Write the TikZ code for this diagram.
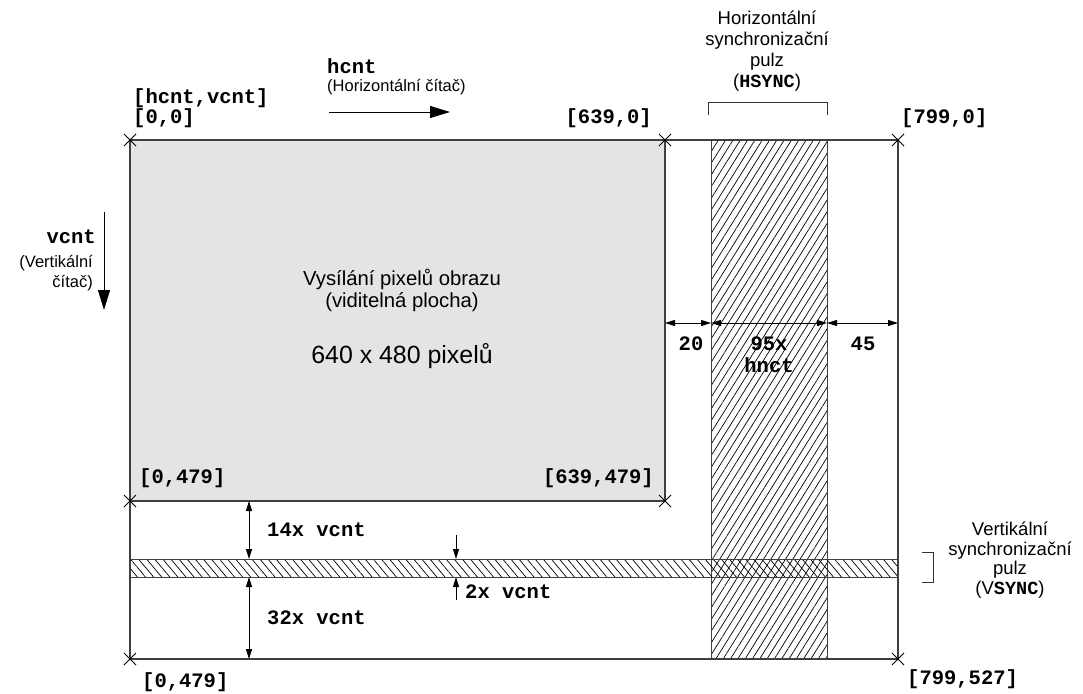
\documentclass[tikz,border=0pt]{standalone}
\usepackage{fontspec}
\setmainfont{Liberation Sans}
\setmonofont{Liberation Mono}
\usetikzlibrary{arrows.meta,patterns.meta}

\definecolor{lineg}{HTML}{404040}
\definecolor{areag}{HTML}{E4E4E4}

\tikzset{
  frameline/.style={draw=lineg, line width=1.2pt},
  crossmark/.style={draw=black, line width=0.8pt},
  mono/.style={font=\fontsize{20.5}{22}\selectfont\ttfamily\bfseries, inner sep=0pt},
  captext/.style={font=\fontsize{16.5}{20.5}\selectfont, align=center, inner sep=0pt},
  synctext/.style={font=\fontsize{18.5}{#1}\selectfont, align=center, inner sep=0pt, anchor=north},
  areatext/.style={font=\fontsize{20.3}{22}\selectfont, inner sep=0pt},
  bigarrow/.style={line width=1pt, -{Triangle[length=20pt,width=12pt]}},
  dimarrow/.style={line width=1pt, {Triangle[length=10pt,width=6pt]}-{Triangle[length=10pt,width=6pt]}},
  onearrow/.style={line width=1pt, -{Triangle[length=10pt,width=6pt]}},
  hatchH/.style={pattern={Lines[angle=58,distance=6.2pt,line width=0.7pt]}, pattern color=black},
  hatchV/.style={pattern={Lines[angle=-50,distance=6.2pt,line width=0.7pt]}, pattern color=black},
}

\begin{document}
\begin{tikzpicture}[x=1pt,y=-1pt]
\useasboundingbox (0,0) rectangle (1083,693);
\fill[white] (0,0) rectangle (1083,693);

% frame corners
\coordinate (tl) at (130,140);
\coordinate (tm) at (665,140);
\coordinate (tr) at (898,140);
\coordinate (ml) at (130,501);
\coordinate (mm) at (665,501);
\coordinate (bl) at (130,659);
\coordinate (br) at (898,659);

% visible area
\fill[areag] (tl) rectangle (mm);

% sync pulses
\draw[hatchH, draw=lineg, line width=1pt] (711,140) rectangle (827,659);
\draw[hatchV, draw=lineg, line width=1pt] (130,559) rectangle (898,577);

% outline
\draw[frameline] (tl) -- (tr) -- (br) -- (bl) -- cycle;
\draw[frameline] (ml) -- (mm) -- (tm);

% corner marks
\foreach \p in {tl,tm,tr,ml,mm,bl,br}
  \draw[crossmark] (\p) +(-6,-6) -- +(6,6) +(-6,6) -- +(6,-6);

% horizontal counter
\coordinate (hs) at (329,112);
\coordinate (he) at (450,112);
\draw[bigarrow] (hs) -- (he);
\node[mono, anchor=west] (hcnt) at (327,66) {hcnt};
\node[captext, anchor=west] (hcap) at (327,87) {(Horizontální čítač)};

% vertical counter
\coordinate (vs) at (104,212);
\coordinate (ve) at (104,310);
\draw[bigarrow] (vs) -- (ve);
\node[mono, anchor=east] (vcnt) at (96,237) {vcnt};
\node[captext, anchor=north east, align=right] (vcap) at (93,255) {(Vertikální\\čítač)};

% corner coordinates
\node[mono, anchor=west] (l1) at (133,98) {[hcnt,vcnt]};
\node[mono, anchor=west] (l2) at (133,118) {[0,0]};
\node[mono, anchor=east] (l3) at (652,118) {[639,0]};
\node[mono, anchor=west] (l4) at (901,118) {[799,0]};
\node[mono, anchor=west] (l5) at (139,478) {[0,479]};
\node[mono, anchor=east] (l6) at (654,478) {[639,479]};
\node[mono, anchor=west] (l7) at (142,682) {[0,479]};
\node[mono, anchor=west] (l8) at (907,679) {[799,527]};

% visible area text
\node[areatext, anchor=base] (vis1) at (402,285) {Vysílání pixelů obrazu};
\node[areatext, anchor=base] (vis2) at (402,307) {(viditelná plocha)};
\node[font=\fontsize{24.9}{27}\selectfont, inner sep=0pt, anchor=base] (res) at (402,363) {640 x 480 pixelů};

% horizontal timing
\coordinate (d0) at (665,323);
\coordinate (d1) at (711,323);
\coordinate (d2) at (827,323);
\coordinate (d3) at (898,323);
\draw[dimarrow] (d0) -- (d1);
\draw[dimarrow] (d1) -- (d2);
\draw[dimarrow] (d2) -- (d3);
\node[mono] (n20) at (691,344) {20};
\node[mono] (n95) at (769,344) {95x};
\node[mono] (nh) at (769,365) {hnct};
\node[mono] (n45) at (863,344) {45};

% HSYNC bracket and caption
\coordinate (hb1) at (708,115);
\coordinate (hb2) at (827,115);
\draw[line width=1pt, black!80] (hb1) -- ++(0,-13) -| (hb2);
\node[synctext=21] (hsync) at (767,11)
  {Horizontální\\synchronizační\\pulz\\(\texttt{\bfseries HSYNC})};

% vertical timing
\coordinate (a0) at (249,501);
\coordinate (a1) at (249,559);
\coordinate (a2) at (249,577);
\coordinate (a3) at (249,659);
\draw[dimarrow] (a0) -- (a1);
\draw[dimarrow] (a2) -- (a3);
\node[mono, anchor=west] (v14) at (267,530) {14x vcnt};
\node[mono, anchor=west] (v32) at (267,618) {32x vcnt};

\coordinate (s0) at (456,535);
\coordinate (s1) at (456,559);
\coordinate (s2) at (456,600);
\coordinate (s3) at (456,577);
\draw[onearrow] (s0) -- (s1);
\draw[onearrow] (s2) -- (s3);
\node[mono, anchor=west] (v2) at (465,592) {2x vcnt};

% VSYNC bracket and caption
\coordinate (vb1) at (922,552);
\coordinate (vb2) at (922,582);
\draw[line width=1pt, black!80] (vb1) -- ++(11,0) |- (vb2);
\node[synctext=19.5] (vsync) at (1010,522)
  {Vertikální\\synchronizační\\pulz\\(V\texttt{\bfseries SYNC})};
\end{tikzpicture}
\end{document}
